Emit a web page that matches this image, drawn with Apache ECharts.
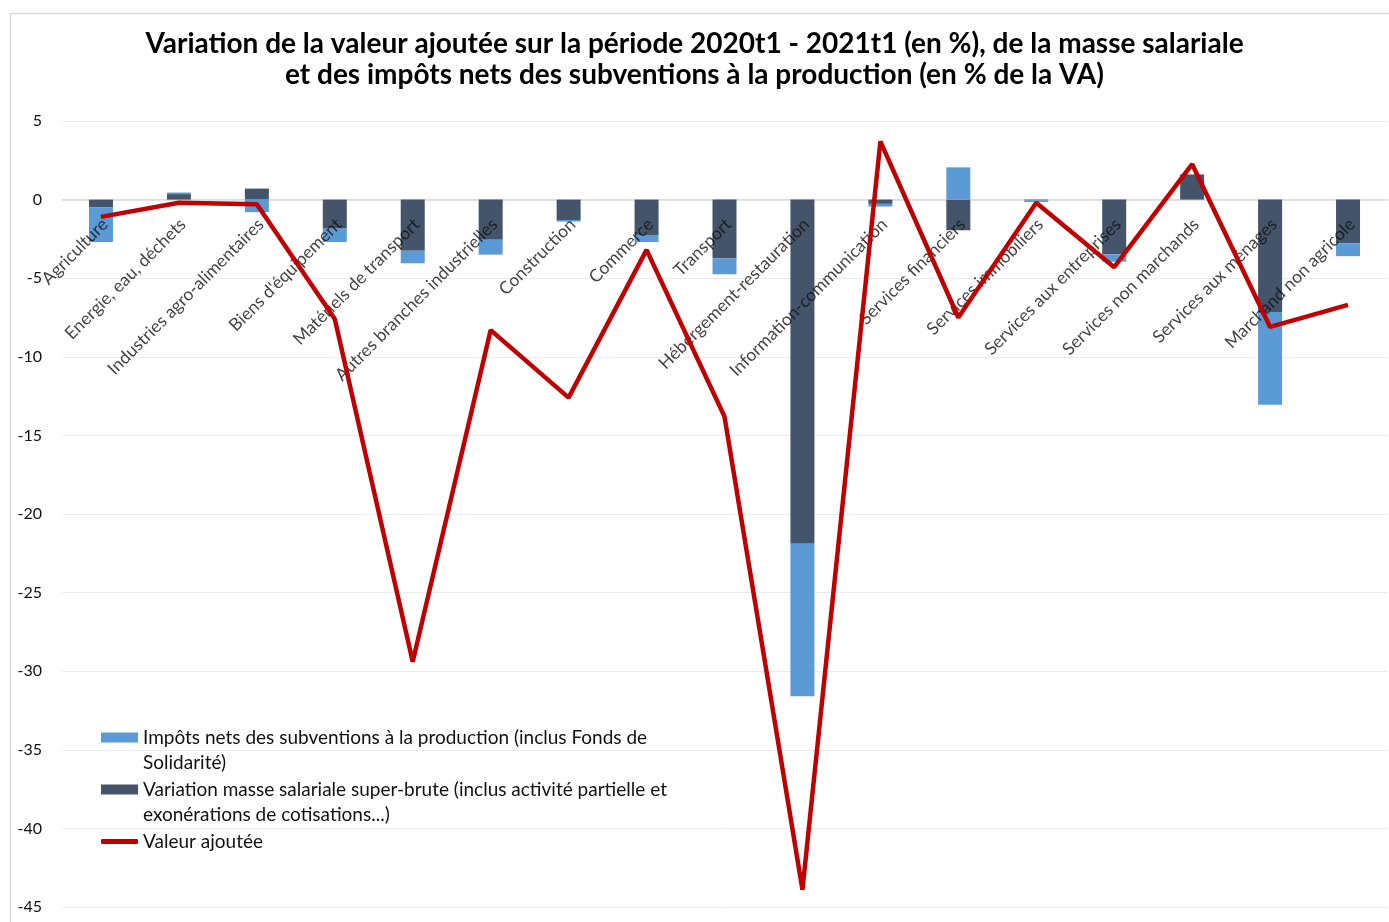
<!DOCTYPE html>
<html>
<head>
<meta charset="utf-8">
<script src="https://cdn.jsdelivr.net/npm/echarts@6/dist/echarts.min.js"></script>
<style>
  html, body { margin: 0; padding: 0; background: #fff; }
  #main { width: 1389px; height: 922px; }
</style>
</head>
<body>
<div id="main"></div>
<script>
var categories = [
    'Agriculture', 'Energie, eau, déchets', 'Industries agro-alimentaires',
    'Biens d\'équipement', 'Matériels de transport', 'Autres branches industrielles',
    'Construction', 'Commerce', 'Transport', 'Hébergement-restauration',
    'Information-communication', 'Services financiers', 'Services immobiliers',
    'Services aux entreprises', 'Services non marchands', 'Services aux ménages',
    'Marchand non agricole'
];

// masse salariale (en % de la VA)
var masseSalariale = [-0.5, 0.35, 0.7, -1.85, -3.25, -2.55, -1.3, -2.25, -3.75, -21.9,
    -0.27, -1.95, -0.05, -3.5, 1.6, -7.15, -2.8];

// impôts nets des subventions (en % de la VA)
var impotsNets = [-2.2, 0.1, -0.8, -0.85, -0.8, -0.95, -0.1, -0.45, -1.0, -9.7,
    -0.17, 2.05, -0.1, -0.45, 0.0, -5.9, -0.8];

// variation de la valeur ajoutée (en %)
var valeurAjoutee = [-1.1, -0.2, -0.3, -7.6, -29.4, -8.3, -12.6, -3.2, -13.8, -43.9,
    3.7, -7.5, -0.2, -4.3, 2.25, -8.1, -6.7];

var yTicks = { min: -45, max: 5, interval: 5 };

var nameImpots = 'Impôts nets des subventions à la production (inclus Fonds de Solidarité)';
var nameMasse = 'Variation masse salariale super-brute (inclus activité partielle et exonérations de cotisations...)';
var nameVA = 'Valeur ajoutée';

// ligne vide en tête : la 1re ligne du texte reste alignée sur le symbole
var legendLabels = {};
legendLabels[nameImpots] = '\nImpôts nets des subventions à la production (inclus Fonds de\nSolidarité)';
legendLabels[nameMasse] = '\nVariation masse salariale super-brute (inclus activité partielle et\nexonérations de cotisations...)';
legendLabels[nameVA] = 'Valeur ajoutée';

var font = 'Lato, "Open Sans", sans-serif';

function legendFor(item, top, iconHeight) {
    return {
        left: 101,
        top: top,
        padding: 0,
        itemWidth: 37,
        itemHeight: iconHeight,
        itemGap: 0,
        data: [item],
        formatter: function (n) { return legendLabels[n]; },
        textStyle: {
            fontFamily: font,
            fontSize: 19,
            lineHeight: 25,
            color: '#111'
        }
    };
}

// libellés des catégories posés sur la ligne du zéro
var zeroLabels = categories.map(function (c) { return [c, 0]; });

var myChart = echarts.init(document.getElementById('main'));

var option = {
    animation: false,
    graphic: [{
        type: 'rect',
        left: 8,
        top: 11,
        shape: { width: 1400, height: 1000 },
        style: { fill: 'none', stroke: '#d9d9d9', lineWidth: 1.5 },
        silent: true
    }],
    title: {
        left: 'center',
        top: 23,
        text: 'Variation de la valeur ajoutée sur la période 2020t1 - 2021t1 (en %), de la masse salariale\net des impôts nets des subventions à la production (en % de la VA)',
        textStyle: {
            fontFamily: font,
            fontSize: 28,
            fontWeight: 'bold',
            lineHeight: 31,
            color: '#000'
        }
    },
    legend: [
        legendFor({ name: nameImpots, icon: 'rect' }, 700, 10),
        legendFor({ name: nameMasse, icon: 'rect' }, 752, 10),
        legendFor({ name: nameVA, icon: 'roundRect', itemStyle: { color: '#C00000' } }, 829, 5)
    ],
    grid: {
        left: 62,
        right: 2,
        top: 121,
        bottom: 15,
        outerBoundsMode: 'none',
        containLabel: false
    },
    xAxis: {
        type: 'category',
        data: categories,
        axisLine: { onZero: true, lineStyle: { color: '#d9d9d9', width: 1.5 } },
        axisTick: { show: false },
        axisLabel: { show: false }
    },
    yAxis: {
        type: 'value',
        min: yTicks.min,
        max: yTicks.max,
        interval: yTicks.interval,
        axisLine: { show: false },
        axisTick: { show: false },
        axisLabel: {
            margin: 20,
            fontFamily: font,
            fontSize: 16,
            color: '#111'
        },
        splitLine: { lineStyle: { color: '#ececec', width: 1 } }
    },
    series: [
        {
            name: nameMasse,
            type: 'bar',
            stack: 'total',
            barWidth: 24,
            z: 2,
            itemStyle: { color: '#44546A' },
            data: masseSalariale
        },
        {
            name: nameImpots,
            type: 'bar',
            stack: 'total',
            barWidth: 24,
            z: 2,
            itemStyle: { color: '#5B9BD5' },
            data: impotsNets
        },
        {
            name: 'libelles',
            type: 'scatter',
            symbolSize: 0,
            silent: true,
            z: 3,
            label: {
                show: true,
                position: 'inside',
                align: 'right',
                verticalAlign: 'middle',
                // décalage exprimé dans le repère tourné
                offset: [-12.7, 18.4],
                rotate: 45,
                fontFamily: font,
                fontSize: 17.5,
                color: '#111',
                formatter: function (p) { return p.value[0]; }
            },
            data: zeroLabels
        },
        {
            name: nameVA,
            type: 'line',
            symbol: 'none',
            z: 5,
            lineStyle: { color: '#C00000', width: 4.5 },
            itemStyle: { color: '#C00000' },
            data: valeurAjoutee
        }
    ]
};

myChart.setOption(option);
</script>
</body>
</html>
